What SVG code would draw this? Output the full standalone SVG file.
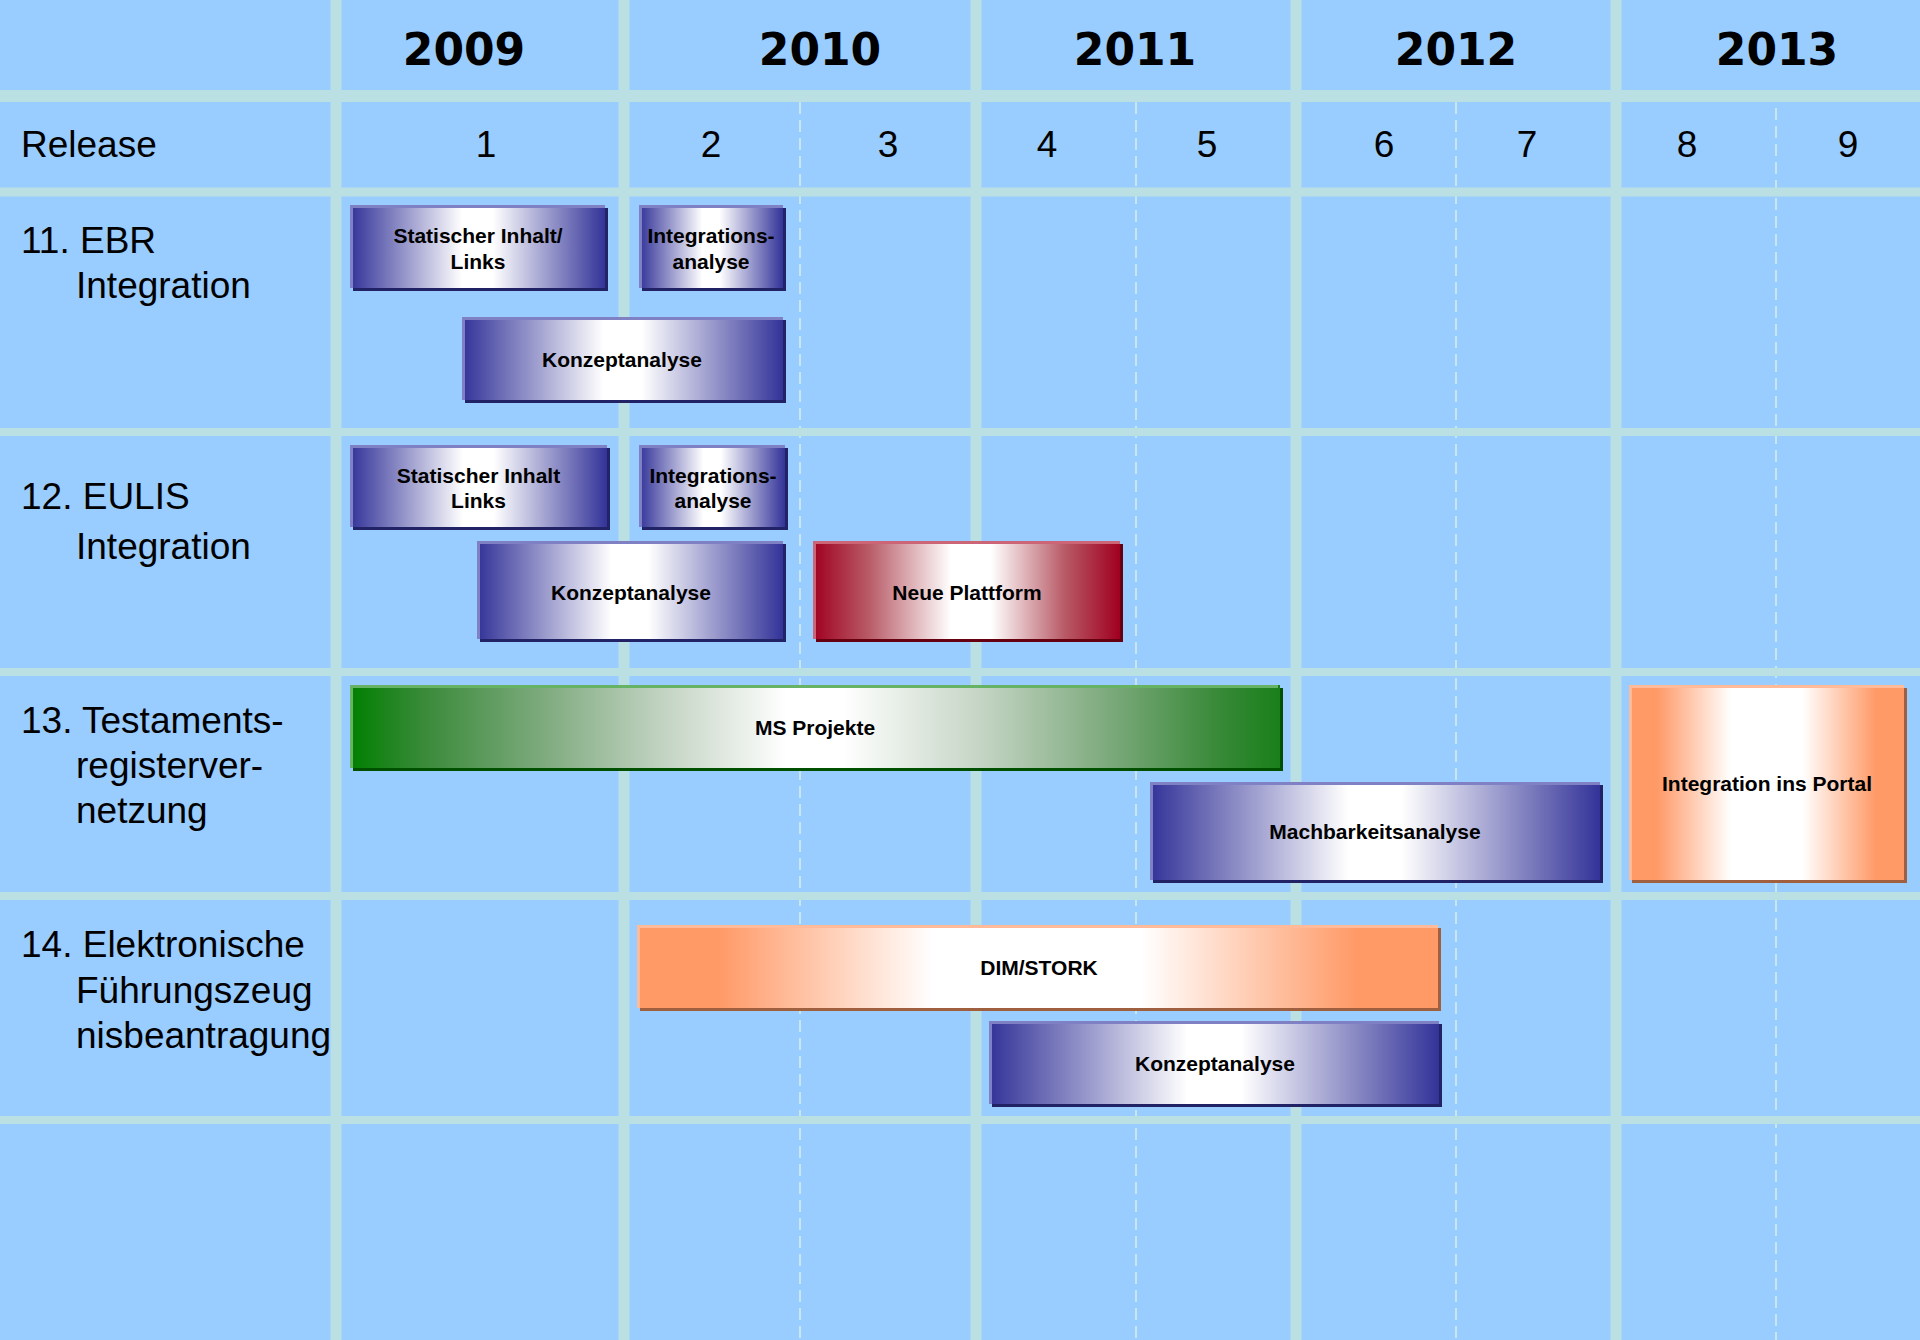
<svg xmlns="http://www.w3.org/2000/svg" width="1920" height="1340" viewBox="0 0 1920 1340">
  <defs>
    <linearGradient id="gBlue" x1="0" y1="0" x2="1" y2="0">
      <stop offset="0" stop-color="#333399"/>
      <stop offset="0.44" stop-color="#FFFFFF"/>
      <stop offset="0.56" stop-color="#FFFFFF"/>
      <stop offset="1" stop-color="#333399"/>
    </linearGradient>
    <linearGradient id="gRed" x1="0" y1="0" x2="1" y2="0">
      <stop offset="0" stop-color="#A00020"/>
      <stop offset="0.18" stop-color="#B85A66"/>
      <stop offset="0.45" stop-color="#FFFFFF"/>
      <stop offset="0.58" stop-color="#FFFFFF"/>
      <stop offset="0.82" stop-color="#B85A66"/>
      <stop offset="1" stop-color="#A00020"/>
    </linearGradient>
    <linearGradient id="gGreen" x1="0" y1="0" x2="1" y2="0">
      <stop offset="0" stop-color="#008000"/>
      <stop offset="0.08" stop-color="#3A8A3A"/>
      <stop offset="0.2" stop-color="#7AA87A"/>
      <stop offset="0.34" stop-color="#C4D4C4"/>
      <stop offset="0.47" stop-color="#FFFFFF"/>
      <stop offset="0.53" stop-color="#FFFFFF"/>
      <stop offset="0.68" stop-color="#C4D4C4"/>
      <stop offset="0.82" stop-color="#7AA87A"/>
      <stop offset="0.93" stop-color="#3A8A3A"/>
      <stop offset="1" stop-color="#1A801A"/>
    </linearGradient>
    <linearGradient id="gOrange" x1="0" y1="0" x2="1" y2="0">
      <stop offset="0" stop-color="#FF9966"/>
      <stop offset="0.1" stop-color="#FF9966"/>
      <stop offset="0.37" stop-color="#FFFFFF"/>
      <stop offset="0.63" stop-color="#FFFFFF"/>
      <stop offset="0.9" stop-color="#FF9966"/>
      <stop offset="1" stop-color="#FF9966"/>
    </linearGradient>
  </defs>
  <style>
    .grid { fill: #BBE0E3; }
    .dash { stroke: #C8E6EE; stroke-width: 2; stroke-dasharray: 12 6; fill: none; }
    .year { font-family: "DejaVu Sans", sans-serif; font-weight: bold; font-size: 44px; fill: #000; text-anchor: middle; }
    .hdr { font-family: "Liberation Sans", Arial, sans-serif; font-size: 37px; fill: #000; }
    .num { text-anchor: middle; }
    .bar { font-family: "Liberation Sans", Arial, sans-serif; font-weight: bold; font-size: 21px; fill: #000; text-anchor: middle; }
    .hl { fill: none; stroke-width: 3; }
    .blue .sh { fill: #222266; }
    .blue .hl { stroke: #8080C4; }
    .red .sh { fill: #660010; }
    .red .hl { stroke: #CC6677; }
    .green .sh { fill: #005000; }
    .green .hl { stroke: #66B366; }
    .orange .sh { fill: #A0603F; }
    .orange .hl { stroke: #FFBB99; }
  </style>

  <rect x="0" y="0" width="1920" height="1340" fill="#99CCFF"/>

  <g id="grid">
    <line class="dash" x1="800" y1="102" x2="800" y2="1340"/>
    <line class="dash" x1="1136" y1="102" x2="1136" y2="1340"/>
    <line class="dash" x1="1456" y1="102" x2="1456" y2="1340"/>
    <line class="dash" x1="1776" y1="108" x2="1776" y2="1340"/>
    <rect class="grid" x="0" y="90" width="1920" height="12"/>
    <rect class="grid" x="0" y="187.5" width="1920" height="9"/>
    <rect class="grid" x="0" y="428" width="1920" height="8"/>
    <rect class="grid" x="0" y="668" width="1920" height="8"/>
    <rect class="grid" x="0" y="892" width="1920" height="8"/>
    <rect class="grid" x="0" y="1116" width="1920" height="8"/>
    <rect class="grid" x="330.5" y="0" width="11" height="1340"/>
    <rect class="grid" x="618.5" y="0" width="11" height="1340"/>
    <rect class="grid" x="970.5" y="0" width="11" height="1340"/>
    <rect class="grid" x="1290.5" y="0" width="11" height="1340"/>
    <rect class="grid" x="1610.5" y="0" width="11" height="1340"/>
  </g>

  <g id="header">
    <text class="year" x="464" y="65">2009</text>
    <text class="year" x="820" y="65">2010</text>
    <text class="year" x="1135" y="65">2011</text>
    <text class="year" x="1456" y="65">2012</text>
    <text class="year" x="1777" y="65">2013</text>
    <text class="hdr" x="21" y="157">Release</text>
    <text class="hdr num" x="486" y="157">1</text>
    <text class="hdr num" x="711" y="157">2</text>
    <text class="hdr num" x="888" y="157">3</text>
    <text class="hdr num" x="1047" y="157">4</text>
    <text class="hdr num" x="1207" y="157">5</text>
    <text class="hdr num" x="1384" y="157">6</text>
    <text class="hdr num" x="1527" y="157">7</text>
    <text class="hdr num" x="1687" y="157">8</text>
    <text class="hdr num" x="1848" y="157">9</text>
  </g>

  <g id="row-labels">
    <text class="hdr" x="21" y="253">11. EBR</text>
    <text class="hdr" x="76" y="298">Integration</text>
    <text class="hdr" x="21" y="509">12. EULIS</text>
    <text class="hdr" x="76" y="559">Integration</text>
    <text class="hdr" x="21" y="733">13. Testaments-</text>
    <text class="hdr" x="76" y="778">registerver-</text>
    <text class="hdr" x="76" y="823">netzung</text>
    <text class="hdr" x="21" y="957">14. Elektronische</text>
    <text class="hdr" x="76" y="1003">Führungszeug</text>
    <text class="hdr" x="76" y="1048">nisbeantragung</text>
  </g>

  <g id="ebr-statisch" class="blue">
    <rect class="sh" x="353" y="208" width="255" height="83"/>
    <rect x="350" y="205" width="255" height="83" fill="url(#gBlue)"/>
    <path class="hl" d="M351.5 288 V206.5 H605"/>
    <text class="bar" x="478" y="243">Statischer Inhalt/</text>
    <text class="bar" x="478" y="269">Links</text>
  </g>
  <g id="ebr-integration" class="blue">
    <rect class="sh" x="642" y="208" width="144" height="83"/>
    <rect x="639" y="205" width="144" height="83" fill="url(#gBlue)"/>
    <path class="hl" d="M640.5 288 V206.5 H783"/>
    <text class="bar" x="711" y="243">Integrations-</text>
    <text class="bar" x="711" y="269">analyse</text>
  </g>
  <g id="ebr-konzept" class="blue">
    <rect class="sh" x="465" y="320" width="321" height="83"/>
    <rect x="462" y="317" width="321" height="83" fill="url(#gBlue)"/>
    <path class="hl" d="M463.5 400 V318.5 H783"/>
    <text class="bar" x="622" y="367">Konzeptanalyse</text>
  </g>

  <g id="eulis-statisch" class="blue">
    <rect class="sh" x="353" y="448" width="257" height="82"/>
    <rect x="350" y="445" width="257" height="82" fill="url(#gBlue)"/>
    <path class="hl" d="M351.5 527 V446.5 H607"/>
    <text class="bar" x="478.5" y="483">Statischer Inhalt</text>
    <text class="bar" x="478.5" y="508">Links</text>
  </g>
  <g id="eulis-integration" class="blue">
    <rect class="sh" x="642" y="448" width="146" height="82"/>
    <rect x="639" y="445" width="146" height="82" fill="url(#gBlue)"/>
    <path class="hl" d="M640.5 527 V446.5 H785"/>
    <text class="bar" x="713" y="483">Integrations-</text>
    <text class="bar" x="713" y="508">analyse</text>
  </g>
  <g id="eulis-konzept" class="blue">
    <rect class="sh" x="480" y="544" width="306" height="98"/>
    <rect x="477" y="541" width="306" height="98" fill="url(#gBlue)"/>
    <path class="hl" d="M478.5 639 V542.5 H783"/>
    <text class="bar" x="631" y="600">Konzeptanalyse</text>
  </g>
  <g id="eulis-plattform" class="red">
    <rect class="sh" x="816" y="544" width="307" height="98"/>
    <rect x="813" y="541" width="307" height="98" fill="url(#gRed)"/>
    <path class="hl" d="M814.5 639 V542.5 H1120"/>
    <text class="bar" x="967" y="600">Neue Plattform</text>
  </g>

  <g id="test-ms" class="green">
    <rect class="sh" x="353" y="688" width="930" height="83"/>
    <rect x="350" y="685" width="930" height="83" fill="url(#gGreen)"/>
    <path class="hl" d="M351.5 768 V686.5 H1278"/>
    <text class="bar" x="815" y="735">MS Projekte</text>
  </g>
  <g id="test-machbarkeit" class="blue">
    <rect class="sh" x="1153" y="785" width="450" height="98"/>
    <rect x="1150" y="782" width="450" height="98" fill="url(#gBlue)"/>
    <path class="hl" d="M1151.5 880 V783.5 H1600"/>
    <text class="bar" x="1375" y="839">Machbarkeitsanalyse</text>
  </g>
  <g id="test-portal" class="orange">
    <rect class="sh" x="1632" y="688" width="275" height="195"/>
    <rect x="1629" y="685" width="275" height="195" fill="url(#gOrange)"/>
    <path class="hl" d="M1630.5 880 V686.5 H1904"/>
    <text class="bar" x="1767" y="791">Integration ins Portal</text>
  </g>

  <g id="fz-dimstork" class="orange">
    <rect class="sh" x="640" y="928" width="801" height="83"/>
    <rect x="637" y="925" width="801" height="83" fill="url(#gOrange)"/>
    <path class="hl" d="M638.5 1008 V926.5 H1438"/>
    <text class="bar" x="1039" y="975">DIM/STORK</text>
  </g>
  <g id="fz-konzept" class="blue">
    <rect class="sh" x="992" y="1024" width="450" height="83"/>
    <rect x="989" y="1021" width="450" height="83" fill="url(#gBlue)"/>
    <path class="hl" d="M990.5 1104 V1022.5 H1439"/>
    <text class="bar" x="1215" y="1071">Konzeptanalyse</text>
  </g>

  <g id="connectors"/>
</svg>
